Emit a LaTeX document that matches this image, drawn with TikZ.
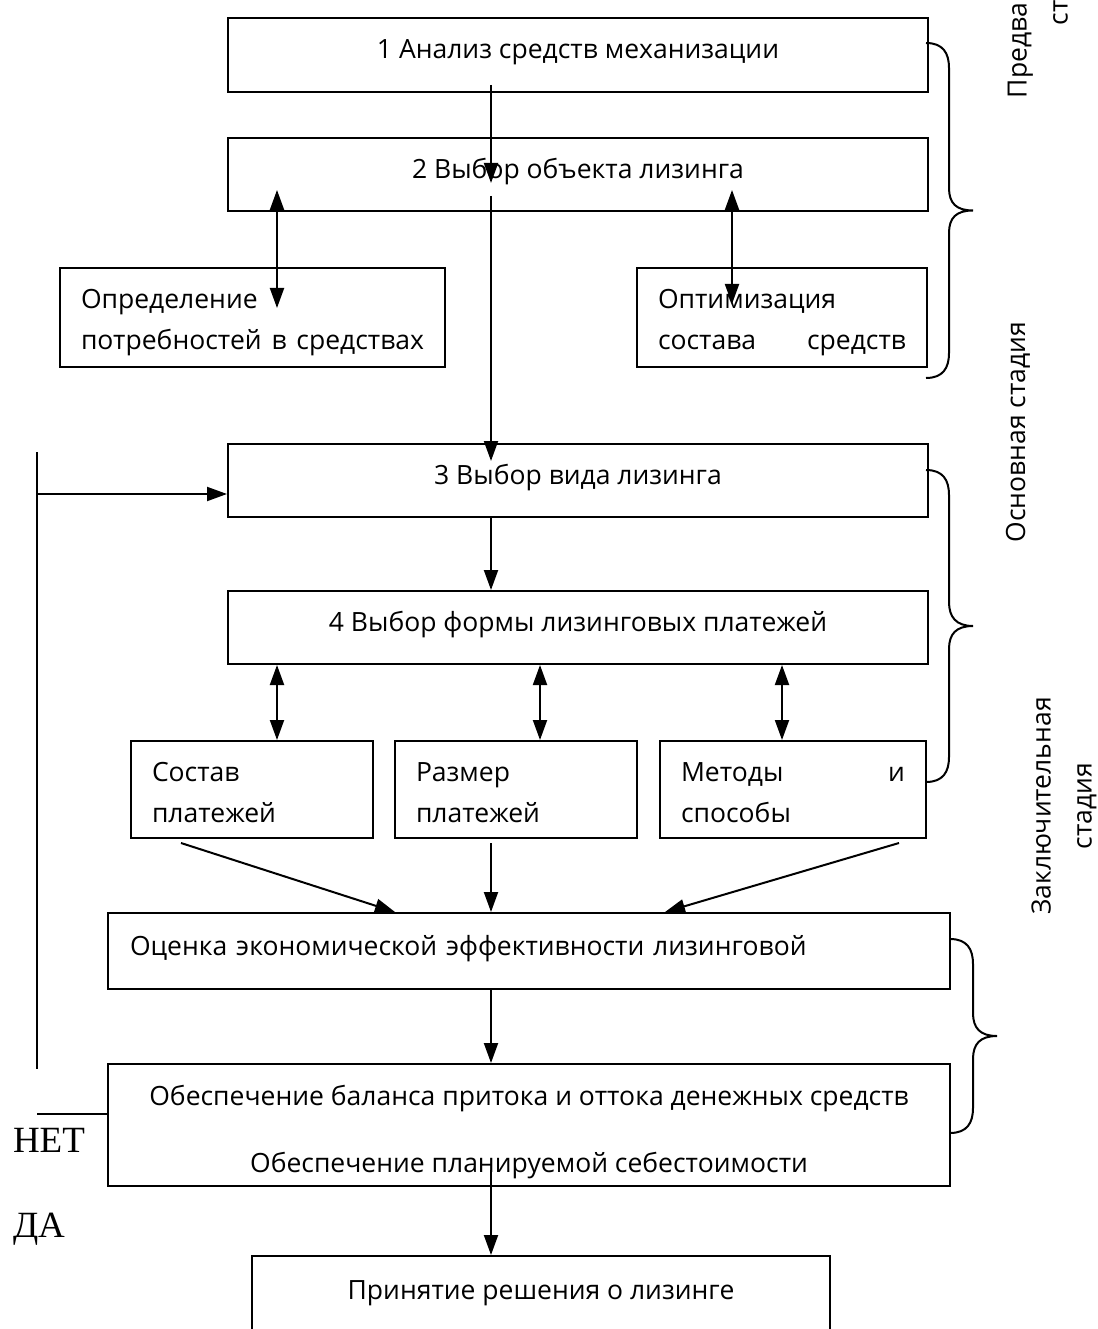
\documentclass[tikz,border=0pt]{standalone}
\usepackage{fontspec}
\setmainfont{Open Sans}
\newfontfamily\timesfont{Liberation Serif}
\usetikzlibrary{arrows.meta}

\begin{document}
\begin{tikzpicture}[
  x=1pt, y=-1pt,
  line width=2pt,
  every node/.style={font=\fontsize{26.5}{41}\selectfont},
  box/.style={draw, text height=19pt, text depth=11pt, inner xsep=0pt, inner ysep=0pt, minimum height=74pt},
  sbox/.style={draw, minimum height=99pt, inner xsep=21pt, align=left},
  stage/.style={rotate=90, align=center},
  arr/.style={-{Triangle[length=20pt,width=14pt]}},
  darr/.style={{Triangle[length=20pt,width=14pt]}-{Triangle[length=20pt,width=14pt]}}
]
  \clip (0,0) rectangle (1097,1329);

  \node[box, minimum width=700pt] (n1) at (578,55) {1 Анализ средств механизации};
  \node[box, minimum width=700pt, minimum height=73pt] (n2) at (578,174.5) {2 Выбор объекта лизинга};
  \node[sbox, text width=343pt] (opr) at (252.5,317.5) {\rule{0pt}{30pt}Определение\\потребностей\hfill в\hfill средствах};
  \node[sbox, text width=248pt] (opt) at (782,317.5) {\rule{0pt}{30pt}Оптимизация\\состава\hfill средств};
  \node[box, minimum width=700pt, minimum height=73pt] (n3) at (578,480.5) {3 Выбор вида лизинга};
  \node[box, minimum width=700pt, minimum height=73pt] (n4) at (578,627.5) {4 Выбор формы лизинговых платежей};
  \node[sbox, minimum height=97pt, text width=200pt] (sost) at (252,789.5) {\rule{0pt}{26pt}Состав\\платежей};
  \node[sbox, minimum height=97pt, text width=200pt] (razm) at (516,789.5) {\rule{0pt}{26pt}Размер\\платежей};
  \node[sbox, minimum height=97pt, text width=224pt] (met) at (793,789.5) {\rule{0pt}{26pt}Методы\hfill и\\способы};
  \node[box, minimum height=76pt, inner xsep=22pt, text width=798pt, align=left] (ocen) at (529,951) {Оценка экономической эффективности лизинговой};
  \node[draw, minimum width=842pt, minimum height=122pt, align=center] (obes) at (529,1125)
    {\rule{0pt}{34pt}Обеспечение баланса притока и оттока денежных средств\\[26pt]Обеспечение планируемой себестоимости};
  \node[box, minimum width=578pt, minimum height=78pt] (prin) at (541,1295) {Принятие решения о лизинге};

  \node[font=\timesfont\fontsize{37}{37}\selectfont, anchor=base west, inner sep=0pt] (net) at (12,1152) {НЕТ};
  \node[font=\timesfont\fontsize{37}{37}\selectfont, anchor=base west, inner sep=0pt] (da) at (12,1237) {ДА};

  \node[stage] (st1) at (1040,-18) {Предварительная\\стадия};
  \node[stage] (st2) at (1018,432) {Основная стадия};
  \node[stage] (st3) at (1064,806) {Заключительная\\стадия};

  \coordinate (m) at (491,0);
  \coordinate (p1) at (491,85);
  \coordinate (p2) at (491,183);
  \coordinate (p3) at (491,196);
  \coordinate (p4) at (491,461);
  \coordinate (l1) at (277,190);
  \coordinate (l2) at (277,308);
  \coordinate (r1) at (732,190);
  \coordinate (r2) at (732,304);
  \coordinate (fb1) at (37,452);
  \coordinate (fb2) at (37,1069);
  \coordinate (fb3) at (37,494);
  \coordinate (fb4) at (37,1114);
  \coordinate (a1) at (181,0);
  \coordinate (a2) at (395,0);
  \coordinate (c1) at (899,0);
  \coordinate (c2) at (665,0);
  \coordinate (q1) at (491,1170);

  \draw[arr] (p1) -- (p2);
  \draw[arr] (p3) -- (p4);
  \draw[darr] (l1) -- (l2);
  \draw[darr] (r1) -- (r2);
  \draw (fb1) -- (fb2);
  \draw[arr] (fb3) -- (fb3 -| n3.west);
  \draw (fb4) -- (fb4 -| obes.west);
  \draw[arr] (n3.south -| m) -- (n4.north -| m);
  \draw[darr] ([xshift=25pt]sost.north |- n4.south) -- ([xshift=25pt]sost.north);
  \draw[darr] ([xshift=24pt]razm.north |- n4.south) -- ([xshift=24pt]razm.north);
  \draw[darr] ([xshift=-11pt]met.north |- n4.south) -- ([xshift=-11pt]met.north);
  \draw[arr] ([yshift=-4pt]sost.south -| a1) -- (ocen.north -| a2);
  \draw[arr] ([yshift=-4pt]razm.south -| m) -- (ocen.north -| m);
  \draw[arr] ([yshift=-4pt]met.south -| c1) -- (ocen.north -| c2);
  \draw[arr] (ocen.south -| m) -- (obes.north -| m);
  \draw[arr] (q1) -- (prin.north -| m);

  \draw (926,43) .. controls (943,43) and (949,53) .. (949,68) -- (949,188)
    .. controls (949,203) and (956,210.5) .. (973,210.5)
    .. controls (956,210.5) and (949,218) .. (949,233) -- (949,353)
    .. controls (949,368) and (943,378) .. (926,378);
  \draw (926,470) .. controls (943,470) and (949,480) .. (949,495) -- (949,602)
    .. controls (949,617) and (956,626) .. (973,626)
    .. controls (956,626) and (949,634) .. (949,649) -- (949,757)
    .. controls (949,772) and (943,782) .. (926,782);
  \draw (950,939) .. controls (967,939) and (973,949) .. (973,964) -- (973,1013)
    .. controls (973,1028) and (980,1036) .. (997,1036)
    .. controls (980,1036) and (973,1044) .. (973,1059) -- (973,1108)
    .. controls (973,1123) and (967,1133) .. (950,1133);
\end{tikzpicture}
\end{document}
